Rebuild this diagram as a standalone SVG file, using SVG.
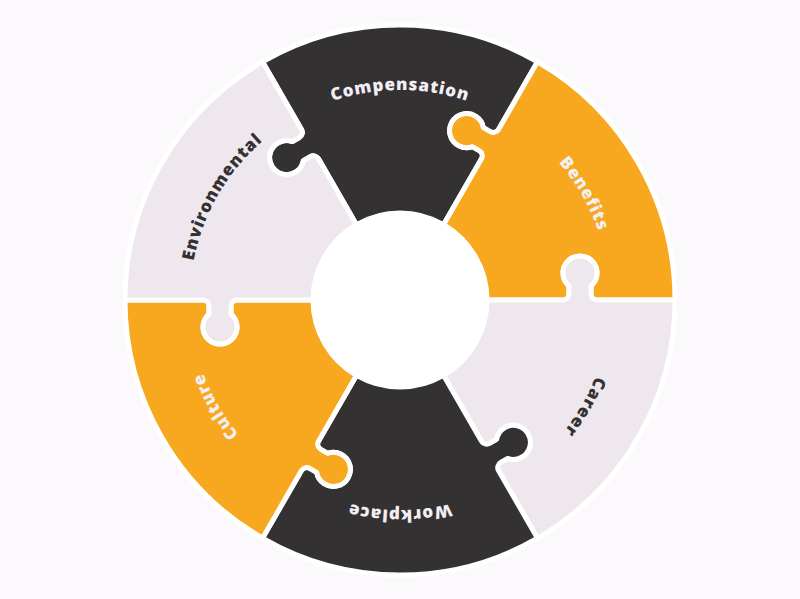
<svg xmlns="http://www.w3.org/2000/svg" width="800" height="599" viewBox="0 0 800 599">
  <defs>
    <path id="piece" d="M -43.5 -75.34 L -81.5 -141.16 A 6 6 0 0 0 -89.70 -143.35 L -96.66 -139.33 A 17 17 0 1 1 -107.66 -158.39 L -100.70 -162.41 A 6 6 0 0 0 -98.5 -170.60 L -137.5 -238.16 A 275 275 0 0 1 137.5 -238.16 L 98.5 -170.60 A 6 6 0 0 1 90.30 -168.41 L 83.34 -172.43 A 17 17 0 1 0 72.34 -153.37 L 79.30 -149.35 A 6 6 0 0 1 81.5 -141.16 L 43.5 -75.34 A 87 87 0 0 0 -43.5 -75.34 Z"/>
    <path id="ring" d="M -210 0 A 210 210 0 1 1 210 0 A 210 210 0 1 1 -210 0"/>
  </defs>
  <style>
    .pc { stroke: #FFFFFF; stroke-width: 5; stroke-linejoin: round; }
    .dark { fill: #333132; }
    .orange { fill: #F7A81F; }
    .light { fill: #EEE8EE; }
    .lbl { font-family: "Open Sans", "Liberation Sans", sans-serif; font-weight: 800; font-size: 17px; letter-spacing: 0.9px; text-anchor: middle; }
    .tl { fill: #F3EEF3; }
    .td { fill: #333132; }
  </style>
  <rect x="0" y="0" width="800" height="599" fill="#FBF9FB"/>
  <g transform="translate(400 300)">
    <circle cx="0" cy="0" r="88" fill="#FFFFFF"/>
    <g id="compensation">
      <use href="#piece" class="pc dark"/>
      <text class="lbl tl"><textPath href="#ring" startOffset="25%">Compensation</textPath></text>
    </g>
    <g id="benefits">
      <use href="#piece" class="pc orange" transform="rotate(60)"/>
      <text class="lbl tl"><textPath href="#ring" startOffset="41.667%">Benefits</textPath></text>
    </g>
    <g id="career">
      <use href="#piece" class="pc light" transform="rotate(120)"/>
      <text class="lbl td"><textPath href="#ring" startOffset="58.333%">Career</textPath></text>
    </g>
    <g id="workplace">
      <use href="#piece" class="pc dark" transform="rotate(180)"/>
      <text class="lbl tl"><textPath href="#ring" startOffset="75%">Workplace</textPath></text>
    </g>
    <g id="culture">
      <use href="#piece" class="pc orange" transform="rotate(240)"/>
      <text class="lbl tl"><textPath href="#ring" startOffset="91.667%">Culture</textPath></text>
    </g>
    <g id="environmental">
      <use href="#piece" class="pc light" transform="rotate(300)"/>
      <text class="lbl td"><textPath href="#ring" startOffset="8.333%">Environmental</textPath></text>
    </g>
  </g>
</svg>
